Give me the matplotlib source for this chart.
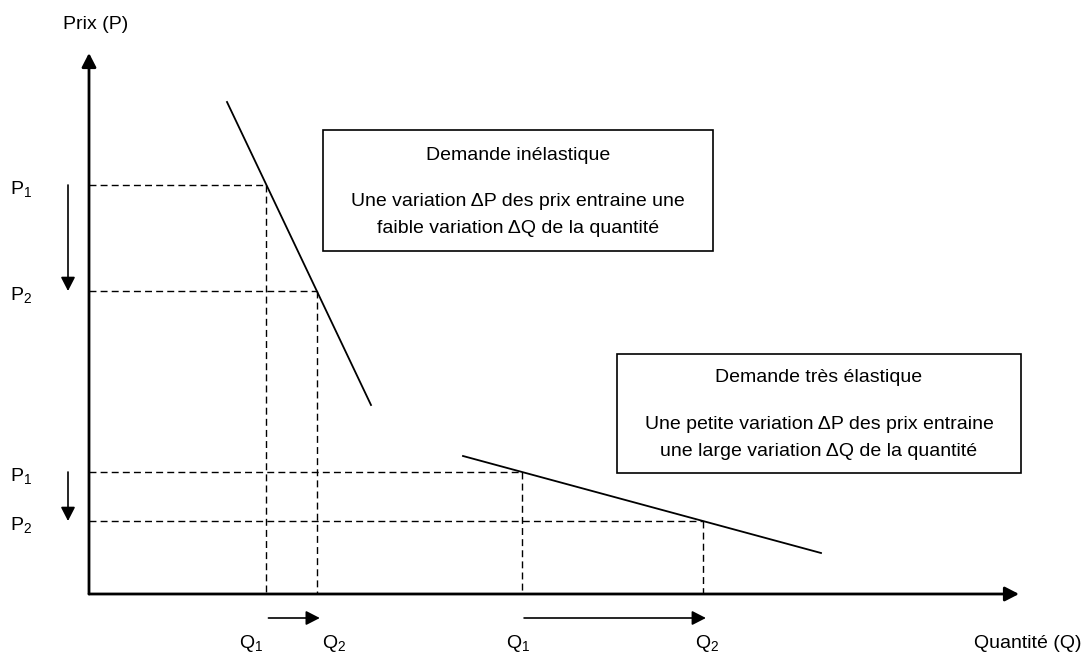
import numpy as np
import matplotlib
matplotlib.use("Agg")
import matplotlib.pyplot as plt
from matplotlib.patches import Rectangle

plt.rcParams['font.family'] = ['Liberation Sans', 'DejaVu Sans']
plt.rcParams['mathtext.fontset'] = 'custom'
plt.rcParams['mathtext.rm'] = 'Liberation Sans'

# demand curves (quantity, price)
inel_q = [13.8, 28.2]
inel_p = [49.2, 18.9]
elas_q = [37.4, 73.2]
elas_p = [13.8, 4.1]

# price levels for each case
inel_prices = [40.9, 30.3]
elas_prices = [12.2, 7.3]

price_labels = [r'P$_1$', r'P$_2$']
qty_labels = [r'Q$_1$', r'Q$_2$']

box_inel = ["Demande inélastique",
            "Une variation ΔP des prix entraine une\nfaible variation ΔQ de la quantité"]
box_elas = ["Demande très élastique",
            "Une petite variation ΔP des prix entraine\nune large variation ΔQ de la quantité"]


def q_at(p, qs, ps):
    # linear demand: find quantity at a given price
    return np.interp(p, ps[::-1], qs[::-1])


fig = plt.figure(figsize=(10.84, 6.56), dpi=100)
ax = fig.add_axes([0, 0, 1, 1])
ax.set_xlim(-8.9, 99.5)
ax.set_ylim(-6.2, 59.4)
ax.axis('off')

fs = 14
arrow = dict(arrowstyle='-|>,head_length=0.7,head_width=0.36', color='black', lw=1.2,
             mutation_scale=12, shrinkA=0, shrinkB=0)

# axes
ax.annotate('', xy=(0, 54.1), xytext=(0, 0), arrowprops=dict(arrow, lw=2))
ax.annotate('', xy=(93.0, 0), xytext=(0, 0), arrowprops=dict(arrow, lw=2))
ax.text(-2.6, 56.9, 'Prix (P)', fontsize=fs, ha='left', va='center')
ax.text(99.2, -4.9, 'Quantité (Q)', fontsize=fs, ha='right', va='center')

# curves
ax.plot(inel_q, inel_p, color='black', lw=1.3)
ax.plot(elas_q, elas_p, color='black', lw=1.3)

dash = dict(color='black', lw=1.0, linestyle=(0, (5, 3)))
qlab_off = [[-1.5, 1.7], [-0.4, 0.4]]
for k, (prices, qs, ps) in enumerate([(inel_prices, inel_q, inel_p),
                                      (elas_prices, elas_q, elas_p)]):
    quants = [q_at(p, qs, ps) for p in prices]
    for i, (p, q) in enumerate(zip(prices, quants)):
        ax.plot([0, q], [p, p], **dash)
        ax.plot([q, q], [p, 0], **dash)
        ax.text(-7.9, p - 0.5, price_labels[i], fontsize=fs, ha='left', va='center')
        ax.text(q + qlab_off[k][i], -4.9, qty_labels[i], fontsize=fs, ha='center', va='center')
    # price change arrow and quantity change arrow
    ax.annotate('', xy=(-2.1, prices[1]), xytext=(-2.1, prices[0]), arrowprops=arrow)
    ax.annotate('', xy=(quants[1] + 0.3, -2.4), xytext=(quants[0] + 0.2, -2.4), arrowprops=arrow)

# text boxes
for (x0, x1, y0, y1), lines, ys in [((23.4, 62.4, 34.3, 46.4), box_inel, (43.8, 37.9)),
                                    ((52.8, 93.2, 12.1, 24.0), box_elas, (21.6, 15.6))]:
    ax.add_patch(Rectangle((x0, y0), x1 - x0, y1 - y0, fill=False, ec='black', lw=1.2))
    xc = (x0 + x1) / 2
    ax.text(xc, ys[0], lines[0], fontsize=fs, ha='center', va='center')
    ax.text(xc, ys[1], lines[1], fontsize=fs, ha='center', va='center', linespacing=1.8)

fig.savefig('out.png', dpi=100)
